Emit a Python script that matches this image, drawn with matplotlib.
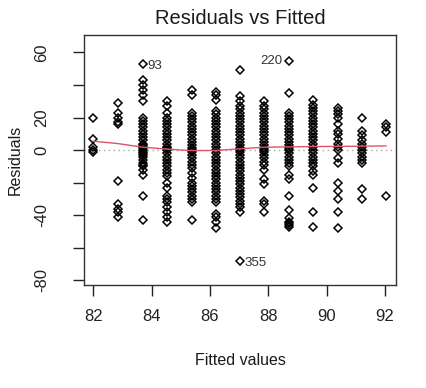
import numpy as np
import matplotlib
matplotlib.use("Agg")
import matplotlib.pyplot as plt

plt.rcParams['font.family'] = ['Liberation Sans', 'DejaVu Sans']

# fitted value of each column of points
fitted = [82.0, 82.85, 83.7, 84.54, 85.37, 86.2, 87.03, 87.86, 88.7, 89.54, 90.37, 91.2, 92.03]

# residuals
resid = [
    [19.5, 7, 2, 0, -1],
    [29, 23, 20, 17, 16, -19, -33, -36, -38, -41],
    [53, 43, 40, 37, 34, 30, 20, 18, 16, 14, 12, 10, 8, 6, 4, 3, 2, 1, 0, -1, -2, -3, -4,
     -6, -8, -9, -10, -12, -15, -28, -43],
    [30, 27, 23, 20, 18, 16, 14, 12, 10, 8, 6, 4, 2, 1, 0, -2, -4, -6, -8, -10, -12, -14,
     -16, -20, -23, -28, -30, -32, -35, -38, -41, -44],
    [37, 34, 23, 21, 19, 17, 15, 13, 11, 9, 7, 5, 3, 1, 0, -1, -3, -5, -7, -9, -11, -14,
     -17, -20, -22, -24, -26, -28, -30, -32, -43],
    [36, 34, 31, 24, 22, 20, 18, 16, 14, 12, 10, 8, 6, 4, 2, 0, -2, -4, -6, -8, -10, -12,
     -14, -16, -18, -20, -22, -24, -26, -28, -30, -32, -39, -41, -44, -48],
    [49, 33, 30, 27, 25, 23, 21, 19, 17, 15, 13, 11, 9, 7, 5, 3, 1, 0, -1, -3, -5, -7, -9,
     -11, -13, -15, -17, -19, -21, -23, -25, -27, -29, -31, -33, -35, -38, -68],
    [30, 27, 25, 23, 21, 19, 17, 15, 13, 11, 9, 7, 5, 3, 1, 0, -1, -3, -5, -7, -9, -12,
     -18, -21, -31, -33, -38],
    [55, 35, 23, 21, 19, 17, 15, 13, 11, 9, 7, 5, 3, 1, 0, -2, -4, -6, -8, -10, -15, -18,
     -28, -37, -42, -44, -45, -46, -47],
    [31, 28, 26, 24, 22, 20, 18, 16, 14, 12, 10, 8, 6, 4, 2, 0, -2, -4, -6, -8, -10, -13,
     -15, -23, -38, -47],
    [26, 24, 22, 19.5, 16, 12, 10, 7, 4, 2, 0, -5, -8, -20, -25, -30, -38, -48],
    [19.5, 12, 9, 6, 4, 2, 0, -2, -4, -6, -8, -24, -30],
    [16, 14, 11, -28],
]

# smoother (red line) read at each column
smooth_y = [5.5, 4.0, 1.8, 0.6, -0.3, -0.2, 0.8, 1.8, 2.0, 2.2, 2.3, 2.4, 2.6]

# labelled outliers: (name, fitted, residual)
outliers = [("93", 83.7, 53), ("220", 88.7, 55), ("355", 87.03, -68)]

x = []
y = []
for f, r in zip(fitted, resid):
    x += [f] * len(r)
    y += r

fig = plt.figure(figsize=(4.26, 3.88), dpi=100)
ax = fig.add_axes([0.197, 0.265, 0.733, 0.645])

ax.axhline(0, color="#A8A8A8", linestyle=(0, (1, 2.5)), linewidth=1.0, zorder=1)
ax.plot(x, y, linestyle="none", marker="D", markersize=4.4, markerfacecolor="none",
        markeredgecolor="black", markeredgewidth=1.1, zorder=2)
ax.plot(fitted, smooth_y, color="#DF536B", linewidth=1.0, zorder=3)

for name, fx, ry in outliers:
    if name == "220":
        ax.text(fx - 0.22, ry, name, ha="right", va="center", fontsize=9.5, color="#333333")
    elif name == "355":
        ax.text(fx + 0.15, ry - 1.5, name, ha="left", va="center", fontsize=9.5, color="#333333")
    else:
        ax.text(fx + 0.15, ry - 1, name, ha="left", va="center", fontsize=9.5, color="#333333")

ax.set_xlim(81.68, 92.38)
ax.set_ylim(-83, 70.8)
ax.set_xticks([82, 84, 86, 88, 90, 92])
ax.set_xticklabels(["82", "84", "86", "88", "90", "92"])
yt = [-80, -60, -40, -20, 0, 20, 40, 60]
ax.set_yticks(yt)
ax.set_yticklabels(["-80", "", "-40", "", "0", "20", "", "60"], rotation=90, va="center")

ax.tick_params(axis="x", length=8, width=1, pad=9, labelsize=12, colors="#222222")
ax.tick_params(axis="y", length=8, width=1, pad=17, labelsize=12, colors="#222222")
for s in ax.spines.values():
    s.set_color("#333333")
    s.set_linewidth(1.0)

ax.set_title("Residuals vs Fitted", fontsize=14.5, pad=8, color="#1a1a1a")
ax.set_xlabel("Fitted values", fontsize=11.5, labelpad=21, color="#1a1a1a")
ax.set_ylabel("Residuals", fontsize=11.5, labelpad=8, color="#1a1a1a")

fig.savefig("out.png", dpi=100)
